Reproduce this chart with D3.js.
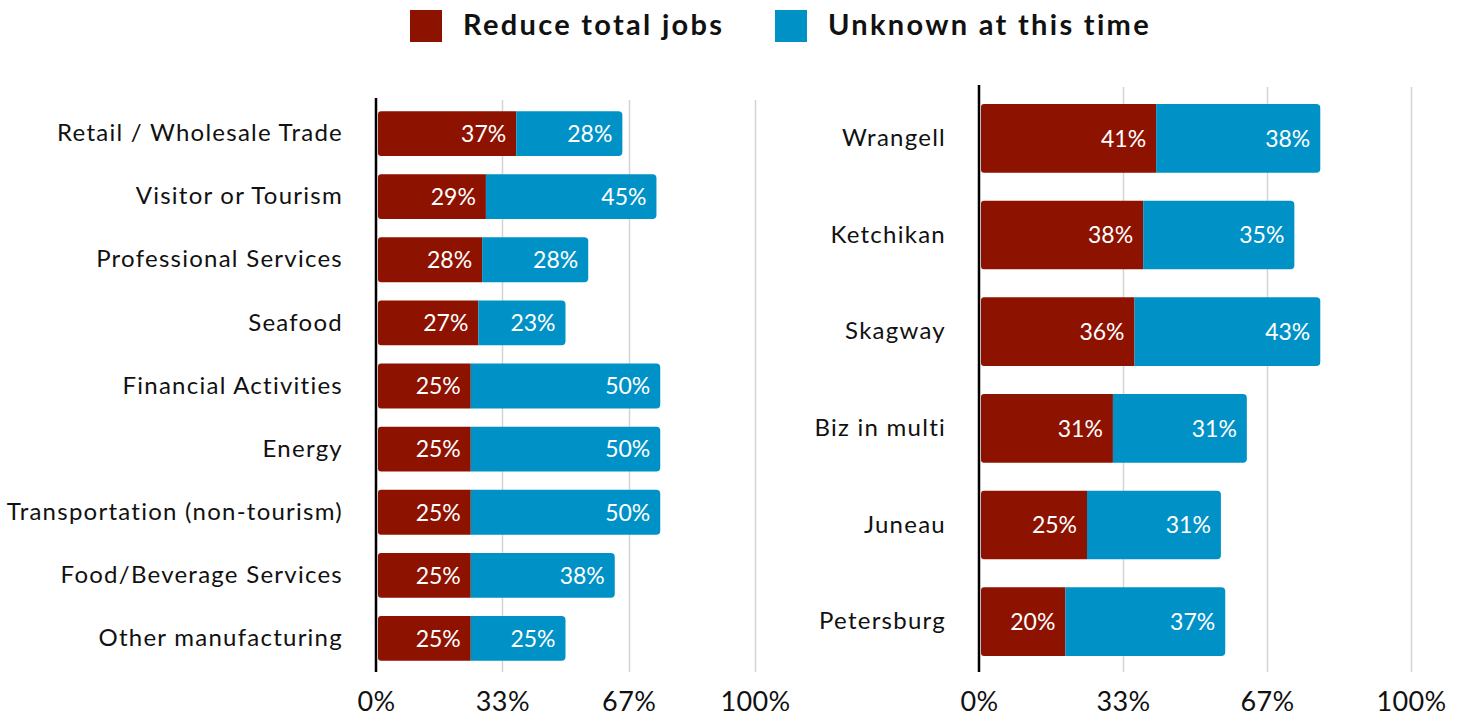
<!DOCTYPE html>
<html>
<head>
<meta charset="utf-8">
<script src="https://cdn.jsdelivr.net/npm/d3@7"></script>
<style>
  body { margin: 0; background: #fff; }
  svg { display: block; font-family: Lato, "Open Sans", sans-serif; }
</style>
</head>
<body>
<svg id="chart" width="1461" height="719"></svg>
<script>
//data (shares of respondents)
var sectors = ["Retail / Wholesale Trade", "Visitor or Tourism", "Professional Services", "Seafood",
	"Financial Activities", "Energy", "Transportation (non-tourism)", "Food/Beverage Services", "Other manufacturing"];
var sectorReduce = [0.37, 0.29, 0.28, 0.27, 0.25, 0.25, 0.25, 0.25, 0.25];
var sectorUnknown = [0.28, 0.45, 0.28, 0.23, 0.50, 0.50, 0.50, 0.38, 0.25];

var towns = ["Wrangell", "Ketchikan", "Skagway", "Biz in multi", "Juneau", "Petersburg"];
var townReduce = [0.41, 0.38, 0.36, 0.31, 0.25, 0.20];
var townUnknown = [0.38, 0.35, 0.43, 0.31, 0.31, 0.37];

var tickValues = [0, 1/3, 2/3, 1];
var tickLabels = ["0%", "33%", "67%", "100%"];
var seriesNames = ["Reduce total jobs", "Unknown at this time"];

var redColor = "#8e1200",
	blueColor = "#0092c6",
	gridColor = "#d4d4d4";

var svg = d3.select("#chart");

//rect with separate left / right corner radius
function barPath(x0, x1, y, h, rl, rr) {
	var p = d3.path();
	p.moveTo(x0 + rl, y);
	p.lineTo(x1 - rr, y);
	if (rr) p.arcTo(x1, y, x1, y + rr, rr);
	p.lineTo(x1, y + h - rr);
	if (rr) p.arcTo(x1, y + h, x1 - rr, y + h, rr);
	p.lineTo(x0 + rl, y + h);
	if (rl) p.arcTo(x0, y + h, x0, y + h - rl, rl);
	p.lineTo(x0, y + rl);
	if (rl) p.arcTo(x0, y, x0 + rl, y, rl);
	p.closePath();
	return p.toString();
}

function drawPanel(cfg) {
	var rows = cfg.names.map(function(n, i) {
		return {name: n, reduce: cfg.reduce[i], unknown: cfg.unknown[i]};
	});

	var x = d3.scaleLinear().domain([0, 1]).range(cfg.xRange);
	var y = d3.scaleBand().domain(cfg.names).range(cfg.yRange)
		.paddingInner(0.29).paddingOuter(0.145);

	var g = svg.append("g");

	//gridlines
	g.selectAll(".grid")
		.data(tickValues.slice(1))
		.enter().append("line")
		.attr("x1", function(d) { return Math.round(x(d)) + 0.5; })
		.attr("x2", function(d) { return Math.round(x(d)) + 0.5; })
		.attr("y1", cfg.gridTop)
		.attr("y2", 672)
		.attr("stroke", gridColor)
		.attr("stroke-width", 1.5);

	//tick labels
	var xAxis = d3.axisBottom(x).tickValues(tickValues)
		.tickFormat(function(d, i) { return tickLabels[i]; })
		.tickSize(0).tickPadding(0);
	var ax = g.append("g").attr("transform", "translate(0,692)").call(xAxis);
	ax.select(".domain").remove();
	ax.selectAll("text")
		.attr("dy", "0.71em")
		.attr("font-size", 27)
		.attr("letter-spacing", 0.4)
		.attr("font-family", "Lato, sans-serif")
		.attr("fill", "#111");

	var bars = g.selectAll(".bar")
		.data(rows)
		.enter().append("g")
		.attr("class", "bar");

	var x0 = x(0) + 2;
	bars.append("path")
		.attr("fill", redColor)
		.attr("d", function(d) { return barPath(x0, x(d.reduce), y(d.name), y.bandwidth(), 3, 0); });
	bars.append("path")
		.attr("fill", blueColor)
		.attr("d", function(d) { return barPath(x(d.reduce), x(d.reduce + d.unknown), y(d.name), y.bandwidth(), 0, 4); });

	//value labels
	bars.append("text")
		.attr("x", function(d) { return x(d.reduce) - 10; })
		.attr("y", function(d) { return y(d.name) + y.bandwidth() / 2; })
		.attr("dy", "0.36em")
		.attr("text-anchor", "end")
		.attr("fill", "#fff")
		.attr("font-size", 23)
		.text(function(d) { return Math.round(d.reduce * 100) + "%"; });
	bars.append("text")
		.attr("x", function(d) { return x(d.reduce + d.unknown) - 10; })
		.attr("y", function(d) { return y(d.name) + y.bandwidth() / 2; })
		.attr("dy", "0.36em")
		.attr("text-anchor", "end")
		.attr("fill", "#fff")
		.attr("font-size", 23)
		.text(function(d) { return Math.round(d.unknown * 100) + "%"; });

	//category labels
	g.selectAll(".cat")
		.data(rows)
		.enter().append("text")
		.attr("x", cfg.labelX + 1)
		.attr("y", function(d) { return y(d.name) + y.bandwidth() / 2 - 1; })
		.attr("dy", "0.36em")
		.attr("text-anchor", "end")
		.attr("fill", "#111")
		.attr("font-size", 24)
		.attr("letter-spacing", 1.25)
		.text(function(d) { return d.name; });

	//baseline axis
	g.append("line")
		.attr("x1", x(0)).attr("x2", x(0))
		.attr("y1", cfg.axisTop).attr("y2", 672)
		.attr("stroke", "#000")
		.attr("stroke-width", 2.5);
}

drawPanel({names: sectors, reduce: sectorReduce, unknown: sectorUnknown,
	xRange: [376, 755], yRange: [102, 670], labelX: 342, gridTop: 100, axisTop: 98});
drawPanel({names: towns, reduce: townReduce, unknown: townUnknown,
	xRange: [979, 1411], yRange: [90, 670], labelX: 945, gridTop: 87, axisTop: 85});

//legend
var legend = svg.append("g");
var legendX = [410, 775];
seriesNames.forEach(function(name, i) {
	legend.append("rect")
		.attr("x", legendX[i]).attr("y", 10)
		.attr("width", 32).attr("height", 32)
		.attr("fill", i == 0 ? redColor : blueColor);
	legend.append("text")
		.attr("x", legendX[i] + 53).attr("y", 25)
		.attr("dy", "0.36em")
		.attr("font-size", 29)
		.attr("font-weight", "bold")
		.attr("letter-spacing", 2.3)
		.attr("fill", "#111")
		.text(name);
});
</script>
</body>
</html>
